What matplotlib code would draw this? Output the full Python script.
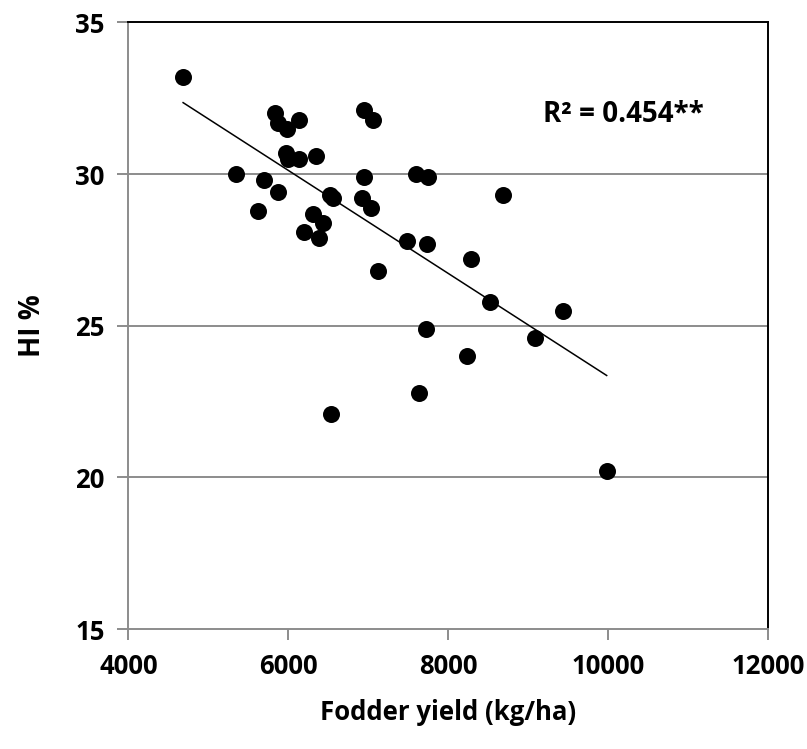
import numpy as np
import matplotlib.pyplot as plt

plt.rcParams['font.family'] = ['Open Sans', 'DejaVu Sans']

# Fodder yield (kg/ha) and harvest index (%)
fodder = [4685, 5830, 5870, 5980, 6140, 5970, 5990, 6130, 6350, 5350,
          5690, 5870, 5620, 6950, 7060, 6950, 6520, 6560, 6920, 7030,
          6310, 6440, 6200, 6390, 7600, 7750, 8690, 7490, 7740, 8280,
          7120, 8520, 7720, 9080, 8230, 7640, 6540, 9440, 9980]
hi = [33.2, 32.0, 31.7, 31.5, 31.8, 30.7, 30.5, 30.5, 30.6, 30.0,
      29.8, 29.4, 28.8, 32.1, 31.8, 29.9, 29.3, 29.2, 29.2, 28.9,
      28.7, 28.4, 28.1, 27.9, 30.0, 29.9, 29.3, 27.8, 27.7, 27.2,
      26.8, 25.8, 24.9, 24.6, 24.0, 22.8, 22.1, 25.5, 20.2]
xticks = [4000, 6000, 8000, 10000, 12000]
yticks = [15, 20, 25, 30, 35]

fig = plt.figure(figsize=(8.07, 7.49), dpi=100)
ax = fig.add_axes([0.159, 0.160, 0.793, 0.810])

ax.set_xlim(4000, 12000)
ax.set_ylim(15, 35)
ax.set_xticks(xticks)
ax.set_yticks(yticks)

# gridlines only on the inner y ticks
for y in yticks[1:-1]:
    ax.axhline(y, color='#8c8c8c', lw=1.4, zorder=1)

ax.scatter(fodder, hi, s=150, color='black', zorder=3, linewidths=0)

# linear trend over the data range
x = np.array(fodder)
k, b = np.polyfit(x, hi, 1)
xl = np.array([x.min(), x.max()])
ax.plot(xl, k * xl + b, color='black', lw=1.1, zorder=2)

ax.text(0.773, 0.848, 'R² = 0.454**', transform=ax.transAxes,
        ha='center', va='center', fontsize=20, fontweight='bold')

for s in ['left', 'bottom']:
    ax.spines[s].set_color('#8c8c8c')
    ax.spines[s].set_linewidth(1.4)
for s in ['top', 'right']:
    ax.spines[s].set_color('black')
    ax.spines[s].set_linewidth(1.4)

ax.tick_params(axis='both', direction='out', length=8, width=1.4,
               color='#8c8c8c', labelsize=18.5, pad=9)
for lab in ax.get_xticklabels() + ax.get_yticklabels():
    lab.set_fontweight('bold')

ax.set_xlabel('Fodder yield (kg/ha)', fontsize=18.5, fontweight='bold', labelpad=14)
ax.set_ylabel('HI %', fontsize=20, fontweight='bold', labelpad=20)

fig.savefig('out.png', dpi=100)
